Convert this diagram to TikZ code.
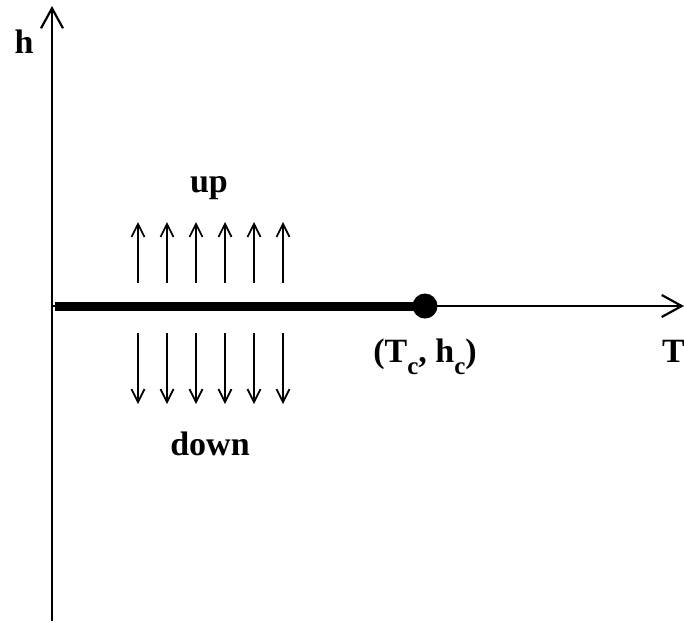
\documentclass[tikz,border=0pt]{standalone}
\usepackage{fontspec}
\setmainfont{Liberation Serif}
\usetikzlibrary{arrows.meta,positioning}
\newcommand{\subc}{\raisebox{-12pt}{\fontsize{25}{25}\selectfont c}}

\begin{document}
\begin{tikzpicture}[
    x=1pt, y=-1pt,
    axis/.style={line width=2.2pt, -{Straight Barb[length=20pt, width=22pt, line width=2.2pt]}},
    spin/.style={line width=1.7pt, -{Straight Barb[length=13pt, width=13pt, line width=1.7pt]}},
    coex/.style={line width=9pt},
    lbl/.style={font=\fontsize{34}{38}\selectfont\bfseries, inner sep=0pt, anchor=base}
]
\useasboundingbox (0,0) rectangle (684,622);
% axes
\coordinate (o) at (52,306);
\coordinate (ybot) at (52,621);
\coordinate (ytop) at (52,6);
\coordinate (xend) at (684,306);
\coordinate (lstart) at (55,306);
\node[circle, fill=black, inner sep=0pt, minimum size=25pt] (crit) at (425,306) {};
\draw[axis] (ybot) -- (ytop);
\draw[axis] (o) -- (xend);
\draw[coex] (lstart) -- (crit.center);
% spins above and below the line
\foreach \i in {0,...,5} {
  \coordinate (ua\i) at (138+29*\i,283);
  \coordinate (ub\i) at (138+29*\i,222);
  \coordinate (da\i) at (138+29*\i,333);
  \coordinate (db\i) at (138+29*\i,404);
  \draw[spin] (ua\i) -- (ub\i);
  \draw[spin] (da\i) -- (db\i);
}
% labels
\node[lbl] (hlab) at (24,53) {h};
\node[lbl] (uplab) at (209,192) {up};
\node[lbl] (downlab) at (210,455) {down};
\node[lbl] (critlab) at (425,362) {(T\subc, h\subc)};
\node[lbl, anchor=base west] (tlab) at (662,362) {T};
\end{tikzpicture}
\end{document}
